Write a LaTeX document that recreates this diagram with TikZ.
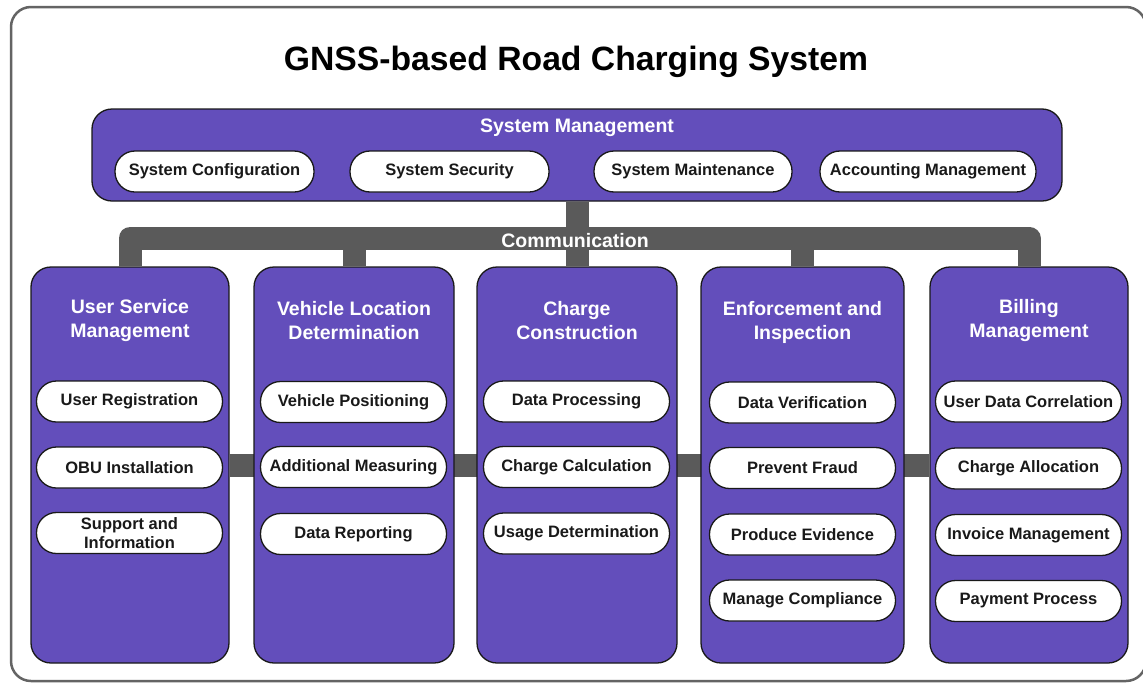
\documentclass[tikz,border=0pt]{standalone}
\usepackage{fontspec}
\setmainfont{Liberation Sans}
\usetikzlibrary{backgrounds}
\definecolor{purp}{RGB}{99,78,187}
\definecolor{busgray}{RGB}{90,90,90}
\definecolor{framegray}{RGB}{100,100,100}
\definecolor{ink}{RGB}{25,25,25}
\begin{document}
\begin{tikzpicture}[x=1pt,y=-1pt,
  box/.style={draw=ink, line width=1.3pt, fill=purp, rounded corners=20pt, inner sep=0pt},
  pill/.style={draw=ink, line width=1.3pt, fill=white, rounded corners=20pt, minimum height=41pt,
    minimum width=186pt, text=ink, font=\bfseries\fontsize{16.5}{18.5}\selectfont, align=center, inner sep=0pt},
  coltitle/.style={text=white, font=\bfseries\fontsize{19.5}{24}\selectfont, align=center, inner sep=0pt},
  bus/.style={draw=busgray, line width=23pt}]
\useasboundingbox (0,0) rectangle (1143,683);
\draw[framegray, line width=2.5pt, rounded corners=20pt] (11,7) rectangle (1146,681);

\node[font=\bfseries\fontsize{33.7}{38}\selectfont, text=black] (title) at (576,62) {GNSS-based Road Charging System};

% System management
\node[box, minimum width=970pt, minimum height=92pt] (sysm) at (577,155) {};
\node[coltitle] (sysmt) at (577,128) {System Management};
\node[pill, minimum width=199pt] (s1) at (214.5,171.5) {System Configuration};
\node[pill, minimum width=199pt] (s2) at (449.5,171.5) {System Security};
\node[pill, minimum width=198pt] (s3) at (693,171.5) {System Maintenance};
\node[pill, minimum width=216pt] (s4) at (928,171.5) {Accounting Management};

% Columns
\node[box, minimum width=198pt, minimum height=396pt] (c1) at (130,465) {};
\node[box, minimum width=200pt, minimum height=396pt] (c2) at (354,465) {};
\node[box, minimum width=200pt, minimum height=396pt] (c3) at (577,465) {};
\node[box, minimum width=203pt, minimum height=396pt] (c4) at (802.5,465) {};
\node[box, minimum width=198pt, minimum height=396pt] (c5) at (1029,465) {};

\node[coltitle] (t1) at (130,320.5) {User Service\\Management};
\node[coltitle] (t2) at (354,321) {Vehicle Location\\Determination};
\node[coltitle] (t3) at (577,320.5) {Charge\\Construction};
\node[coltitle] (t4) at (802.5,322) {Enforcement and\\Inspection};
\node[coltitle] (t5) at (1029,320.5) {Billing\\Management};

% Bus
\coordinate (bl) at (130,238);
\coordinate (bm) at (577,238);
\coordinate (br) at (1029,238);
\begin{scope}[on background layer]
  \fill[white] (0,0) rectangle (1143,683);
  \draw[bus, line join=round] (c1.north) -- (bl) -- (br) -- (c5.north);
  \draw[bus] (sysm.south) -- (bm) -- (c3.north);
  \draw[bus] (c2.north) -- (c2.north |- bl);
  \draw[bus] (c4.north) -- (c4.north |- bl);
  \draw[bus] (c1.east) -- (c5.west);
\end{scope}
\node[coltitle] (comm) at (575,240.5) {Communication};

% Pills
\tikzset{every node/.append style={}}
\node[pill] (p11) at (129.5,401.5) {User Registration};
\node[pill] (p12) at (129.5,467.5) {OBU Installation};
\node[pill] (p13) at (129.5,533) {Support and\\Information};

\node[pill] (p21) at (353.5,402) {Vehicle Positioning};
\node[pill] (p22) at (353.5,467) {Additional Measuring};
\node[pill] (p23) at (353.5,534) {Data Reporting};

\node[pill] (p31) at (576.5,401.5) {Data Processing};
\node[pill] (p32) at (576.5,467) {Charge Calculation};
\node[pill] (p33) at (576.5,533.5) {Usage Determination};

\node[pill] (p41) at (802.5,402.5) {Data Verification};
\node[pill] (p42) at (802.5,468) {Prevent Fraud};
\node[pill] (p43) at (802.5,534.5) {Produce Evidence};
\node[pill] (p44) at (802.5,600.5) {Manage Compliance};

\node[pill] (p51) at (1028.5,401.5) {User Data Correlation};
\node[pill] (p52) at (1028.5,468.5) {Charge Allocation};
\node[pill] (p53) at (1028.5,535) {Invoice Management};
\node[pill] (p54) at (1028.5,601) {Payment Process};
\end{tikzpicture}
\end{document}
